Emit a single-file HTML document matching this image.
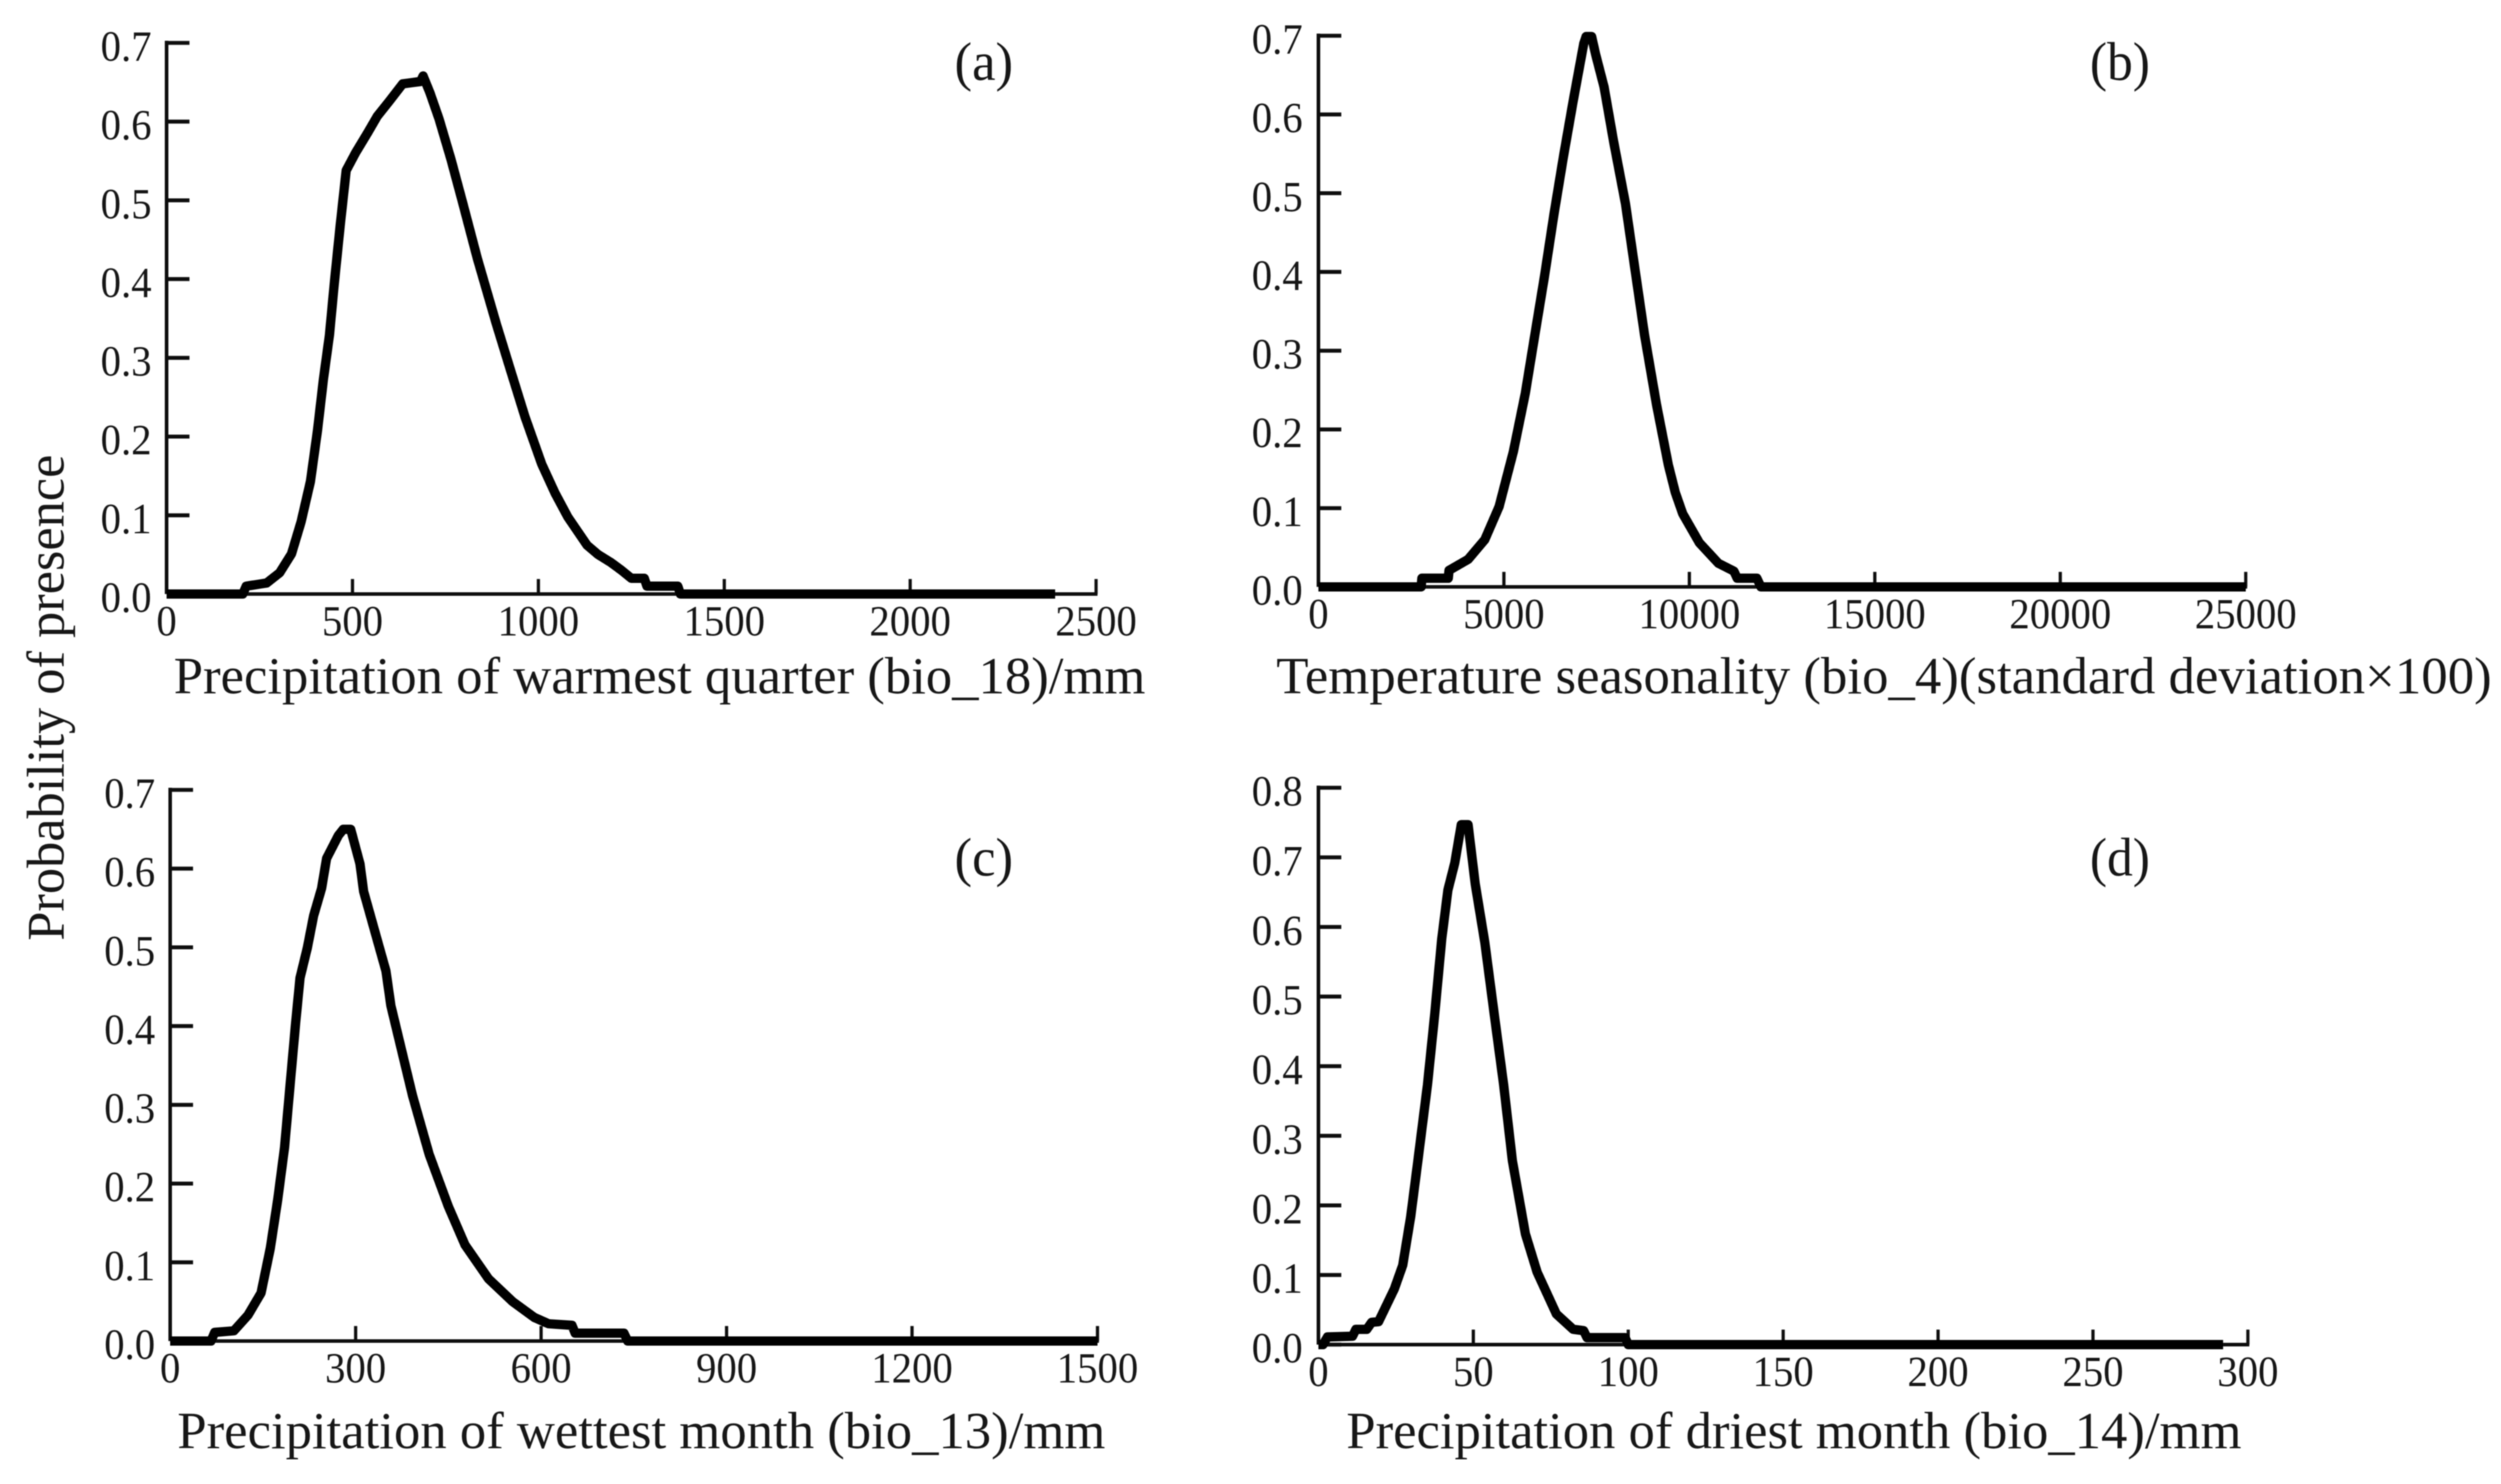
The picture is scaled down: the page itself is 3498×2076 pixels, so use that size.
<!DOCTYPE html>
<html lang="en">
<head>
<meta charset="utf-8">
<title>Response curves</title>
<style>
html,body{margin:0;padding:0;background:#fff;width:3498px;height:2076px;overflow:hidden}
svg{display:block}
text{font-family:"Liberation Serif",serif;fill:#161616}
</style>
</head>
<body>
<svg id="figure" xmlns="http://www.w3.org/2000/svg" width="3498" height="2076" viewBox="0 0 3498 2076">
  <defs><filter id="soft" x="0" y="0" width="100%" height="100%"><feGaussianBlur stdDeviation="0.8"/></filter></defs>
  <rect width="3498" height="2076" fill="#fff"/>
  <g filter="url(#soft)">
  <text transform="translate(89,1316) rotate(-90)" font-size="74" textLength="680" lengthAdjust="spacingAndGlyphs">Probability of presence</text>
  <text x="243" y="970" font-size="73" textLength="1359" lengthAdjust="spacingAndGlyphs">Precipitation of warmest quarter (bio_18)/mm</text>
  <text x="1785" y="970" font-size="73" textLength="1700" lengthAdjust="spacingAndGlyphs">Temperature seasonality (bio_4)(standard deviation×100)</text>
  <text x="248" y="2026" font-size="73" textLength="1298" lengthAdjust="spacingAndGlyphs">Precipitation of wettest month (bio_13)/mm</text>
  <text x="1883" y="2026" font-size="73" textLength="1252" lengthAdjust="spacingAndGlyphs">Precipitation of driest month (bio_14)/mm</text>
  <text x="1335" y="112" font-size="76" textLength="82" lengthAdjust="spacingAndGlyphs">(a)</text>
  <text x="2923" y="112" font-size="76" textLength="84" lengthAdjust="spacingAndGlyphs">(b)</text>
  <text x="1335" y="1225" font-size="76" textLength="82" lengthAdjust="spacingAndGlyphs">(c)</text>
  <text x="2923" y="1225" font-size="76" textLength="84" lengthAdjust="spacingAndGlyphs">(d)</text>
  <g id="panels"></g>
  </g>
</svg>
<script>
const aX = [0,205,214,269,304,336,362,387,406,422,438,451,467,483,509,541,567,599,635,683,690,708,733,765,797,836,887,926,964,1009,1045,1079,1131,1161,1195,1224,1250,1285,1292,1375,1382,2390];
const aY = [0,0,.01,.014,.027,.051,.092,.143,.208,.273,.329,.394,.468,.538,.561,.586,.607,.626,.648,.651,.658,.637,.603,.552,.496,.426,.343,.283,.225,.165,.128,.098,.062,.05,.04,.03,.02,.02,.01,.01,0,0];
const aXTicks = [0,500,1000,1500,2000,2500];
const aYTicks = ["0.0","0.1","0.2","0.3","0.4","0.5","0.6","0.7"];

const bX = [0,2770,2790,3500,3522,4036,4486,4871,5257,5578,5835,6093,6350,6607,6864,7153,7217,7365,7475,7700,7957,8277,8535,8792,9113,9434,9620,9820,10270,10783,11200,11290,11820,11930,25000];
const bY = [0,0,.011,.011,.021,.035,.06,.102,.172,.246,.32,.394,.473,.547,.616,.69,.699,.699,.676,.635,.566,.487,.403,.32,.232,.155,.12,.093,.056,.03,.02,.011,.011,0,0];
const bXTicks = [0,5000,10000,15000,20000,25000];
const bYTicks = ["0.0","0.1","0.2","0.3","0.4","0.5","0.6","0.7"];

const cX = [0,66,72,103,126,147,162,174,185,195,203,210,222,232,245,253,272,280,292,307,313,349,357,392,419,450,477,515,554,589,612,650,655,734,740,1500];
const cY = [0,0,.011,.013,.033,.061,.118,.18,.246,.334,.404,.461,.5,.54,.575,.613,.642,.65,.65,.606,.571,.47,.426,.312,.237,.171,.122,.079,.05,.03,.022,.02,.01,.01,0,0];
const cXTicks = [0,300,600,900,1200,1500];
const cYTicks = ["0.0","0.1","0.2","0.3","0.4","0.5","0.6","0.7"];

const dX = [0,1.5,2.9,11,12.1,15.6,17.2,19.4,24.5,27.2,29.8,32.1,35.2,37.5,39.8,41.8,44,46.1,48.3,50.6,53.7,56.8,59.8,62.6,66.8,70.6,76.8,82.2,85.6,86.7,99,100,292];
const dY = [0,0,.011,.012,.022,.022,.032,.033,.08,.114,.184,.264,.373,.473,.583,.653,.692,.747,.747,.662,.578,.473,.373,.264,.159,.104,.044,.022,.02,.01,.01,0,0];
const dXTicks = [0,50,100,150,200,250,300];
const dYTicks = ["0.0","0.1","0.2","0.3","0.4","0.5","0.6","0.7","0.8"];

const NS = 'http://www.w3.org/2000/svg';
const root = document.getElementById('panels');

function make(tag, attrs, parent) {
  const el = document.createElementNS(NS, tag);
  for (const k in attrs) el.setAttribute(k, attrs[k]);
  parent.appendChild(el);
  return el;
}

function drawPanel(id, xs, ys, xTicks, yTicks, box) {
  const g = make('g', {}, root);
  
  
  const xMax = xTicks[xTicks.length - 1];
  const yMax = parseFloat(yTicks[yTicks.length - 1]);
  const sx = v => box.left + (v / xMax) * (box.right - box.left);
  const sy = v => box.bottom - (v / yMax) * (box.bottom - box.top);

  const yAxis = make('line', {x1: box.left, x2: box.left, y1: box.top - 3, y2: box.bottom, stroke: '#111', 'stroke-width': 5}, g);
  
  
  const xAxis = make('line', {x1: box.left, x2: box.right + 2, y1: box.bottom, y2: box.bottom, stroke: '#111', 'stroke-width': 5}, g);
  
  

  xTicks.forEach(t => {
    const x = sx(t);
    const tick = make('line', {x1: x, x2: x, y1: box.bottom, y2: box.bottom - 21, stroke: '#111', 'stroke-width': 4.5}, g);
    
    
    const label = make('text', {transform: 'translate(' + x + ',' + (box.bottom + 58) + ') scale(.95,1)', 'font-size': 60, 'text-anchor': 'middle'}, g);
    label.textContent = String(t);
    
    
  });

  yTicks.forEach(t => {
    const y = sy(parseFloat(t));
    const tick = make('line', {x1: box.left, x2: box.left + 32, y1: y, y2: y, stroke: '#111', 'stroke-width': 5.5}, g);
    
    
    const label = make('text', {transform: 'translate(' + (box.left - box.gap) + ',' + (y + 25) + ') scale(.95,1)', 'font-size': 60, 'text-anchor': 'end'}, g);
    label.textContent = t;
    
    
  });

  const pts = xs.map((v, i) => sx(v).toFixed(1) + ',' + sy(ys[i]).toFixed(1)).join(' ');
  const curve = make('polyline', {points: pts, fill: 'none', stroke: '#050505', 'stroke-width': 13, 'stroke-linejoin': 'round', 'stroke-linecap': 'butt'}, g);
  
  
}

drawPanel('a', aX, aY, aXTicks, aYTicks, {left: 233, right: 1533, top: 60, bottom: 831, gap: 21});
drawPanel('b', bX, bY, bXTicks, bYTicks, {left: 1844, right: 3141, top: 50, bottom: 821, gap: 22});
drawPanel('c', cX, cY, cXTicks, cYTicks, {left: 238, right: 1535, top: 1105, bottom: 1876, gap: 21});
drawPanel('d', dX, dY, dXTicks, dYTicks, {left: 1844, right: 3144, top: 1102, bottom: 1881, gap: 22});
</script>
</body>
</html>
